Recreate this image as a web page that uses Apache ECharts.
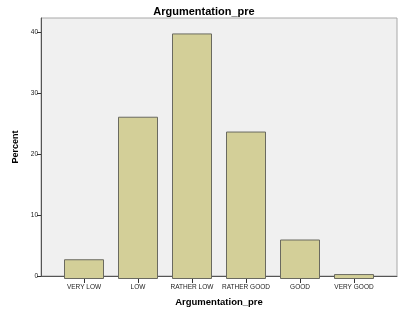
<!DOCTYPE html>
<html><head><meta charset="utf-8">
<script src="https://cdn.jsdelivr.net/npm/echarts@6/dist/echarts.min.js"></script>
<style>html,body{margin:0;padding:0;background:#fff}#c{width:398px;height:312px}</style>
</head><body><div id="c"></div>
<script>
const title = 'Argumentation_pre';
const categories = ['VERY LOW','LOW','RATHER LOW','RATHER GOOD','GOOD','VERY GOOD'];
const percents = [3.2, 26.3, 39.8, 23.9, 6.4, 0.8];
const yTicks = [0, 10, 20, 30, 40];
const yMax = 42.3;

const chart = echarts.init(document.getElementById('c'), null, {renderer:'canvas'});
chart.setOption({
  animation:false,
  backgroundColor:'#ffffff',
  title:{text:title, left:204, textAlign:'center', top:6, padding:0,
    textStyle:{fontFamily:'Liberation Sans', fontSize:11, fontWeight:'bold', color:'#000'}},
  grid:[
    {left:41, right:1, top:18, bottom:33, show:true, backgroundColor:'#f0f0f0', borderColor:'#a8a8a8', borderWidth:1},
    {left:57, width:324, top:18, bottom:33}
  ],
  xAxis:[
    {gridIndex:0, type:'value', min:0, max:1, show:true,
      axisLine:{show:true, onZero:false, lineStyle:{color:'#555', width:1}},
      axisTick:{show:false}, axisLabel:{show:false}, splitLine:{show:false},
      name:title, nameLocation:'middle', nameGap:21,
      nameTextStyle:{fontFamily:'Liberation Sans', fontSize:9.5, fontWeight:'bold', color:'#000'}},
    {gridIndex:1, type:'category', data:categories,
      axisLine:{show:false}, axisTick:{show:true, alignWithLabel:true, length:4, lineStyle:{color:'#333'}},
      axisLabel:{interval:0, fontFamily:'Liberation Sans', fontSize:6.5, color:'#222', margin:5},
      splitLine:{show:false}}
  ],
  yAxis:[
    {gridIndex:0, type:'value', min:0, max:yMax, interval:10,
      axisLine:{show:true, lineStyle:{color:'#555', width:1}},
      axisTick:{show:true, length:4, customValues:yTicks, lineStyle:{color:'#333'}},
      axisLabel:{fontFamily:'Liberation Sans', fontSize:6.5, color:'#222', margin:3, customValues:yTicks},
      splitLine:{show:false},
      name:'Percent', nameLocation:'middle', nameGap:20, nameRotate:90,
      nameTextStyle:{fontFamily:'Liberation Sans', fontSize:9, fontWeight:'bold', color:'#000'}},
    {gridIndex:1, type:'value', min:0, max:yMax, show:false}
  ],
  series:[{
    type:'bar', xAxisIndex:1, yAxisIndex:1, data:percents, barWidth:40,
    itemStyle:{color:'#d3cf98', borderColor:'#6a6a60', borderWidth:1}
  }]
});
</script></body></html>
